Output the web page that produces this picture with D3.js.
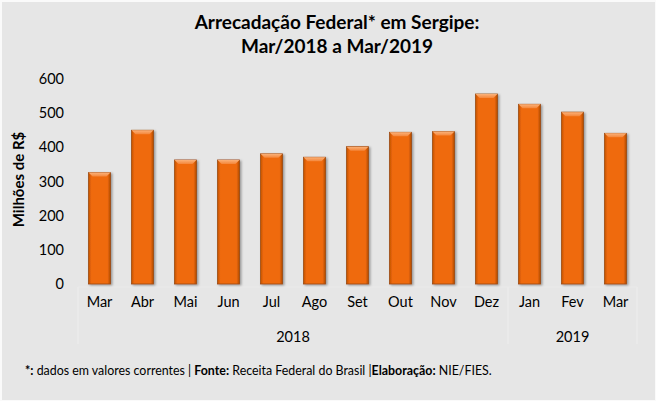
<!DOCTYPE html>
<html>
<head>
<meta charset="utf-8">
<script src="https://cdn.jsdelivr.net/npm/d3@7"></script>
<style>
  body { margin: 0; background: #fff; }
  svg text { font-family: Lato, "Open Sans", sans-serif; fill: #000; }
</style>
</head>
<body>
<svg id="chart"></svg>
<script>
// valores (milhoes de R$)
var months = ["Mar", "Abr", "Mai", "Jun", "Jul", "Ago", "Set", "Out", "Nov", "Dez", "Jan", "Fev", "Mar"];
var years = [{label: "2018", first: 0, last: 9}, {label: "2019", first: 10, last: 12}];
var values = [326, 450, 363, 363, 381, 371, 402, 444, 446, 556, 526, 503, 441];
var y_ticks = [0, 100, 200, 300, 400, 500, 600];
var title_lines = ["Arrecadação Federal* em Sergipe:", "Mar/2018 a Mar/2019"];
var y_label = "Milhões de R$";

var W = 656, H = 401;
var svg = d3.select("svg#chart").attr("width", W).attr("height", H),
  margin = {top: 79, right: 19, bottom: 117, left: 78},
  width = W - margin.left - margin.right,
  height = H - margin.top - margin.bottom;

// fundo
svg.append("rect").attr("width", W).attr("height", H).attr("fill", "#fafafa");
svg.append("rect").attr("x", 2).attr("y", 2).attr("width", W - 3).attr("height", H - 3).attr("fill", "#e6e6e6");

var defs = svg.append("defs");
var grad = defs.append("linearGradient").attr("id", "barGrad")
  .attr("x1", "0%").attr("x2", "100%").attr("y1", "0%").attr("y2", "0%");
grad.append("stop").attr("offset", "0%").attr("stop-color", "#c45300");
grad.append("stop").attr("offset", "14%").attr("stop-color", "#ef6a0c");
grad.append("stop").attr("offset", "86%").attr("stop-color", "#ef6a0c");
grad.append("stop").attr("offset", "100%").attr("stop-color", "#b24c00");
var topGrad = defs.append("linearGradient").attr("id", "topGrad")
  .attr("x1", "0%").attr("x2", "0%").attr("y1", "0%").attr("y2", "100%");
topGrad.append("stop").attr("offset", "0%").attr("stop-color", "#fbb27a");
topGrad.append("stop").attr("offset", "100%").attr("stop-color", "#f4863a");
var shadow = defs.append("filter").attr("id", "shadow")
  .attr("x", "-30%").attr("y", "-10%").attr("width", "160%").attr("height", "120%");
shadow.append("feDropShadow").attr("dx", 1.5).attr("dy", 1).attr("stdDeviation", 1.2)
  .attr("flood-color", "#000").attr("flood-opacity", 0.35);

var main_g = svg.append("g").attr("transform", "translate(" + margin.left + "," + margin.top + ")");

var x = d3.scaleBand()
  .domain(d3.range(months.length))
  .range([0, width])
  .paddingInner(0.49)
  .paddingOuter(0.245);

var y = d3.scaleLinear()
  .domain([0, 600])
  .range([height, 0]);

// AXES
var yAxis = d3.axisLeft(y).tickValues(y_ticks).tickSize(0).tickPadding(14);
main_g.append("g").call(function(g) {
  g.call(yAxis);
  g.select(".domain").remove();
  g.selectAll(".tick text").style("font-size", "14.5px").style("font-family", "Lato, sans-serif").attr("fill", "#000");
});

var xAxis = d3.axisBottom(x).tickSize(0).tickPadding(13).tickFormat(function(i) { return months[i]; });
main_g.append("g").attr("transform", "translate(0," + height + ")").call(function(g) {
  g.call(xAxis);
  g.select(".domain").remove();
  g.selectAll(".tick text").style("font-size", "14.5px").style("font-family", "Lato, sans-serif").attr("fill", "#000");
});

// separadores de ano (bem claros)
var step = x.step();
var sepX = [0, years[1].first * step, width];
main_g.selectAll("line.sep").data(sepX).enter().append("line")
  .attr("class", "sep")
  .attr("x1", function(d) { return d; }).attr("x2", function(d) { return d; })
  .attr("y1", height + 3).attr("y2", height + 60)
  .attr("stroke", "#eeeeee").attr("stroke-width", 1);
main_g.append("line").attr("x1", 0).attr("x2", width)
  .attr("y1", height + 3).attr("y2", height + 3)
  .attr("stroke", "#eaeaea").attr("stroke-width", 1);

main_g.selectAll("text.year").data(years).enter().append("text")
  .attr("class", "year")
  .attr("x", function(d) { return (d.first * step + (d.last + 1) * step) / 2; })
  .attr("y", height + 58)
  .attr("text-anchor", "middle")
  .style("font-size", "14.5px")
  .text(function(d) { return d.label; });

// BARS
var bars = main_g.selectAll("g.bar").data(values).enter().append("g").attr("class", "bar");
bars.append("rect")
  .attr("x", function(d, i) { return x(i); })
  .attr("y", function(d) { return y(d); })
  .attr("width", x.bandwidth())
  .attr("height", function(d) { return height - y(d); })
  .attr("fill", "url(#barGrad)")
  .attr("stroke", "#9a4712").attr("stroke-width", 0.8)
  .attr("filter", "url(#shadow)");
bars.append("path")
  .attr("d", function(d, i) {
    var x0 = x(i), x1 = x(i) + x.bandwidth(), t = y(d), b = 4;
    return "M" + x0 + "," + t + "L" + x1 + "," + t + "L" + (x1 - b) + "," + (t + b) + "L" + (x0 + b) + "," + (t + b) + "Z";
  })
  .attr("fill", "url(#topGrad)");

// TITLE
svg.selectAll("text.title").data(title_lines).enter().append("text")
  .attr("class", "title")
  .attr("x", 337)
  .attr("y", function(d, i) { return 29 + i * 24; })
  .attr("text-anchor", "middle")
  .style("font-size", "19px").style("font-weight", "bold")
  .text(function(d) { return d; });

// Y LABEL
svg.append("text")
  .attr("transform", "translate(24," + (margin.top + height / 2 - 2) + ") rotate(-90)")
  .attr("text-anchor", "middle")
  .style("font-size", "15px").style("font-weight", "bold")
  .text(y_label);

// FOOTNOTE
var foot = svg.append("text").attr("x", 25).attr("y", 375).style("font-size", "12.4px");
foot.append("tspan").style("font-weight", "bold").text("*:");
foot.append("tspan").text(" dados em valores correntes | ");
foot.append("tspan").style("font-weight", "bold").text("Fonte:");
foot.append("tspan").text(" Receita Federal do Brasil |");
foot.append("tspan").style("font-weight", "bold").text("Elaboração:");
foot.append("tspan").text(" NIE/FIES.");
</script>
</body>
</html>
